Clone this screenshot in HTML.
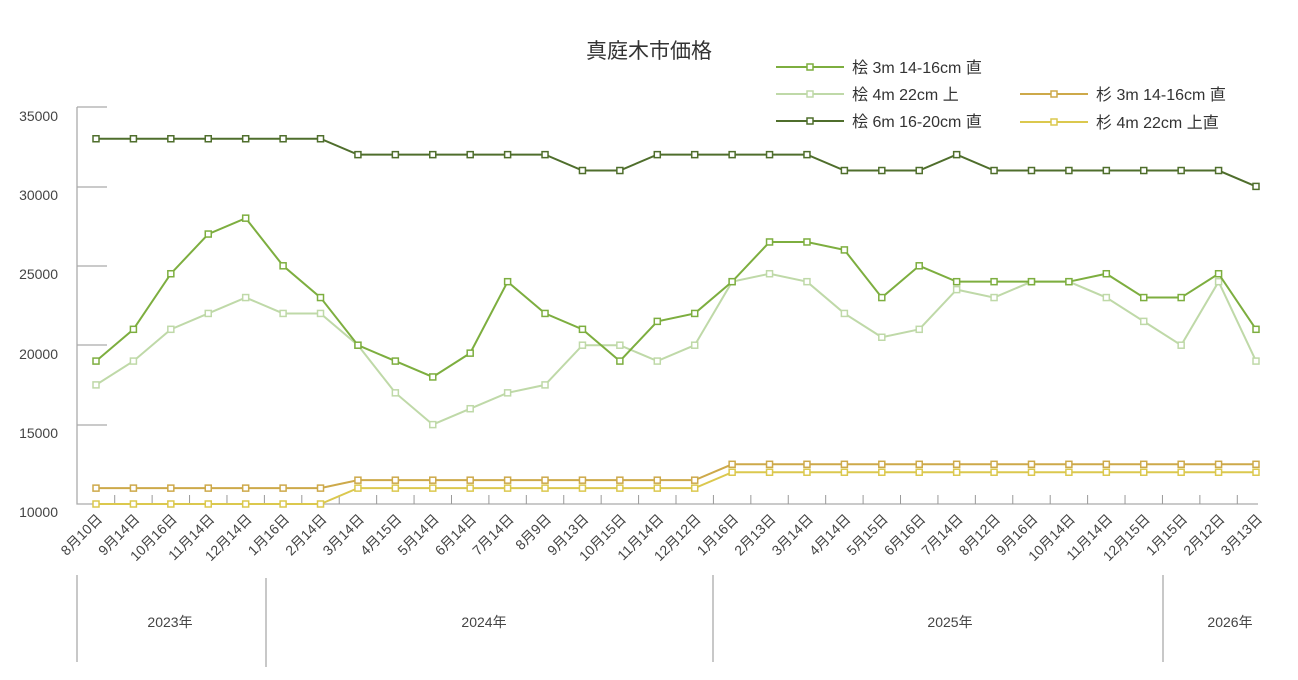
<!DOCTYPE html><html><head><meta charset="utf-8"><style>body{margin:0;background:#fff}svg{display:block;font-family:"Liberation Sans","Noto Sans CJK JP",sans-serif}</style></head><body>
<svg id="s" width="1298" height="680" xmlns="http://www.w3.org/2000/svg">
<text x="649" y="58" font-size="21" text-anchor="middle" fill="#333">真庭木市価格</text>
<g stroke="#aaa" stroke-width="1.3" fill="none">
<path d="M77 107V504H1258"/><path d="M77 107H107M77 187H107M77 266H107M77 345H107M77 425H107"/>
<path d="M77 575V662M266 578V667M713 575V662M1163 575V662"/>
</g>
<g font-size="14" fill="#444" text-anchor="end">
<text x="58" y="121">35000</text><text x="58" y="200">30000</text><text x="58" y="279">25000</text><text x="58" y="359">20000</text><text x="58" y="438">15000</text><text x="58" y="517">10000</text>
</g>
<g font-size="14" fill="#444" text-anchor="middle"><text x="170" y="627">2023年</text><text x="484" y="627">2024年</text><text x="950" y="627">2025年</text><text x="1230" y="627">2026年</text></g>
<g id="ticks" stroke="#999" stroke-width="1"></g>
<g id="labs" font-size="14" fill="#444" text-anchor="end"></g>
<g id="series"></g>
<g font-size="16" fill="#333">
<line x1="776" y1="67" x2="844" y2="67" stroke="#7dae3f" stroke-width="2"/><rect x="807" y="64" width="6" height="6" fill="#fff" stroke="#7dae3f" stroke-width="1.5"/><text x="852" y="73">桧 3m 14-16cm 直</text>
<line x1="776" y1="94" x2="844" y2="94" stroke="#bfd9a8" stroke-width="2"/><rect x="807" y="91" width="6" height="6" fill="#fff" stroke="#bfd9a8" stroke-width="1.5"/><text x="852" y="100">桧 4m 22cm 上</text>
<line x1="776" y1="121" x2="844" y2="121" stroke="#4f6e2c" stroke-width="2"/><rect x="807" y="118" width="6" height="6" fill="#fff" stroke="#4f6e2c" stroke-width="1.5"/><text x="852" y="127">桧 6m 16-20cm 直</text>
<line x1="1020" y1="94" x2="1088" y2="94" stroke="#cda94a" stroke-width="2"/><rect x="1051" y="91" width="6" height="6" fill="#fff" stroke="#cda94a" stroke-width="1.5"/><text x="1096" y="100">杉 3m 14-16cm 直</text>
<line x1="1020" y1="122" x2="1088" y2="122" stroke="#dbc84e" stroke-width="2"/><rect x="1051" y="119" width="6" height="6" fill="#fff" stroke="#dbc84e" stroke-width="1.5"/><text x="1096" y="128">杉 4m 22cm 上直</text>
</g>
</svg>
<script>
const NS="http://www.w3.org/2000/svg";
const L=["8月10日","9月14日","10月16日","11月14日","12月14日","1月16日","2月14日","3月14日","4月15日","5月14日","6月14日","7月14日","8月9日","9月13日","10月15日","11月14日","12月12日","1月16日","2月13日","3月14日","4月14日","5月15日","6月16日","7月14日","8月12日","9月16日","10月14日","11月14日","12月15日","1月15日","2月12日","3月13日"];
const X=i=>96+i*1160/31, Y=v=>504-(v-10000)*79.4/5000;
function el(t,a,p){const e=document.createElementNS(NS,t);for(const k in a)e.setAttribute(k,a[k]);p.appendChild(e);return e}
const tk=document.getElementById("ticks"),lb=document.getElementById("labs"),sr=document.getElementById("series");
for(let i=0;i<31;i++){const x=X(i+0.5);el("line",{x1:x,y1:495,x2:x,y2:504},tk)}
L.forEach((t,i)=>{const x=X(i)+7,y=520;const e=el("text",{x:x,y:y,transform:`rotate(-45 ${x} ${y})`},lb);e.textContent=t});
const r=(a,n)=>Array(n).fill(a);
const S=[
["#dbc84e",[...r(10000,7),...r(11000,10),...r(12000,15)]],
["#cda94a",[...r(11000,7),...r(11500,10),...r(12500,15)]],
["#bfd9a8",[17500,19000,21000,22000,23000,22000,22000,20000,17000,15000,16000,17000,17500,20000,20000,19000,20000,24000,24500,24000,22000,20500,21000,23500,23000,24000,24000,23000,21500,20000,24000,19000]],
["#7dae3f",[19000,21000,24500,27000,28000,25000,23000,20000,19000,18000,19500,24000,22000,21000,19000,21500,22000,24000,26500,26500,26000,23000,25000,24000,24000,24000,24000,24500,23000,23000,24500,21000]],
["#4f6e2c",[...r(33000,7),...r(32000,6),31000,31000,...r(32000,5),31000,31000,31000,32000,...r(31000,7),30000]]];
S.forEach(([c,d])=>{el("polyline",{points:d.map((v,i)=>X(i)+","+Y(v)).join(" "),fill:"none",stroke:c,"stroke-width":2},sr);
d.forEach((v,i)=>el("rect",{x:X(i)-3,y:Y(v)-3,width:6,height:6,fill:"#fff",stroke:c,"stroke-width":1.5},sr))});
</script>
</body></html>
